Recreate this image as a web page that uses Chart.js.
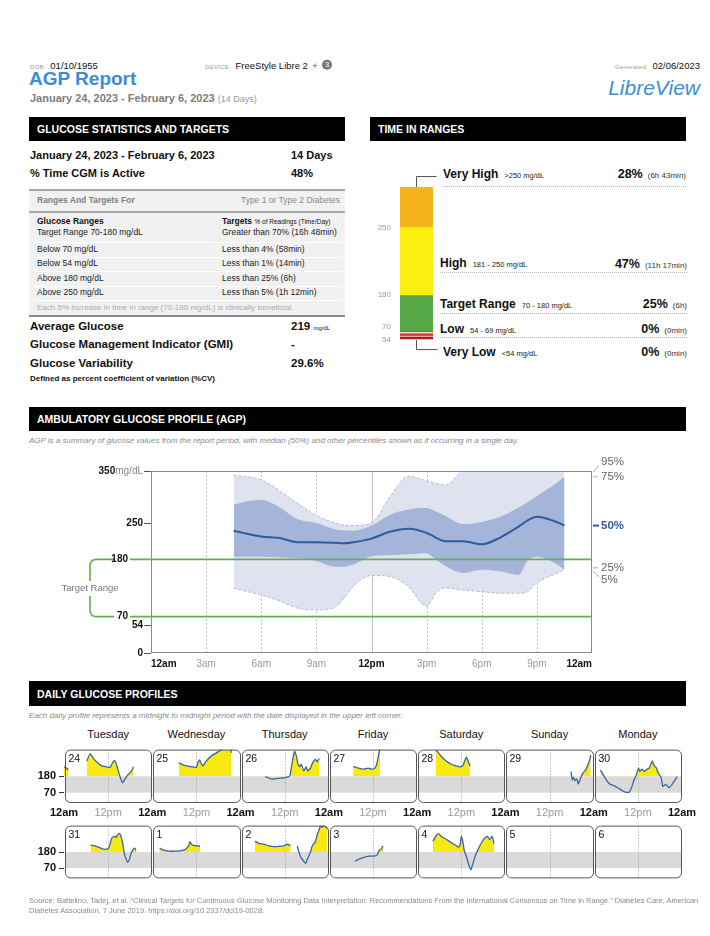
<!DOCTYPE html>
<html><head><meta charset="utf-8"><title>AGP Report</title>
<script src="https://cdn.jsdelivr.net/npm/chart.js@4.4.1/dist/chart.umd.min.js"></script>
<style>
html,body{margin:0;padding:0;background:#fff}
body{position:relative;width:710px;height:936px;overflow:hidden;font-family:"Liberation Sans",Arial,Helvetica,sans-serif;color:#111}
.a{position:absolute;white-space:nowrap;transform:translateY(-50%);line-height:1.15}
.cap{font-size:6px;color:#9a9a9a;letter-spacing:.3px}
.hb{position:absolute;background:#000;color:#fff;font-weight:bold;font-size:10.5px;box-sizing:border-box;padding-left:8px;height:24px;line-height:25px}
.big{font-size:11px;font-weight:bold}
.big2{font-size:11.5px;font-weight:bold}
.s{font-size:8.5px;color:#222}
.hl{position:absolute;height:0}
.dot{position:absolute;height:0;border-top:1px dotted #b5b5b5}
.circ{display:inline-block;width:10px;height:10px;border-radius:50%;background:#777;color:#fff;font-size:7.5px;text-align:center;line-height:10px;vertical-align:middle}
.tn{font-size:12px;font-weight:bold}
.tr{font-size:7.5px;color:#222;margin-left:6px}
.tp{font-size:12.5px;font-weight:bold}
.tt{font-size:8px;color:#333;margin-left:5px}
canvas{position:absolute}
</style></head><body>

<!-- header -->
<div class="a" style="left:30px;top:64px"><span class="cap">DOB:</span> <span style="font-size:9.5px">01/10/1955</span></div>
<div class="a" style="left:205px;top:64px"><span class="cap">DEVICE:</span> <span style="font-size:9.5px">FreeStyle Libre 2</span> <span style="font-size:9px;color:#555">+</span> <span class="circ">3</span></div>
<div class="a" style="right:10px;top:64px"><span class="cap">Generated:</span> <span style="font-size:9.5px">02/06/2023</span></div>
<div class="a" style="left:29px;top:79px;font-size:19px;font-weight:bold;color:#3a8dd4">AGP Report</div>
<div class="a" style="left:30px;top:98px;font-size:11px;font-weight:bold;color:#7d7d7d">January 24, 2023 - February 6, 2023 <span style="font-weight:normal;font-size:9px;color:#9a9a9a">(14 Days)</span></div>
<div class="a" style="right:10px;top:88px;font-size:21px;font-style:italic;color:#3b8fd6">LibreView</div>

<!-- glucose statistics -->
<div class="hb" style="left:29px;top:117px;width:316px">GLUCOSE STATISTICS AND TARGETS</div>
<div class="a big" style="left:30px;top:155px">January 24, 2023 - February 6, 2023</div>
<div class="a big" style="left:291px;top:155px">14 Days</div>
<div class="a big" style="left:30px;top:173px">% Time CGM is Active</div>
<div class="a big" style="left:291px;top:173px">48%</div>

<div style="position:absolute;left:29px;top:189px;width:316px;height:124px;background:#f1f1f1;border-top:2px solid #a8a8a8;border-bottom:2px solid #8a8a8a"></div>
<div class="hl" style="left:29px;top:211px;width:316px;border-top:2px solid #a8a8a8"></div>
<div class="hl" style="left:34px;top:242px;width:308px;border-top:1px solid #fff"></div>
<div class="hl" style="left:34px;top:257px;width:308px;border-top:1px solid #fff"></div>
<div class="hl" style="left:34px;top:271px;width:308px;border-top:1px solid #fff"></div>
<div class="hl" style="left:34px;top:286px;width:308px;border-top:1px solid #fff"></div>
<div class="hl" style="left:34px;top:300px;width:308px;border-top:1px solid #fff"></div>
<div class="a" style="left:37px;top:201px;font-size:8.5px;font-weight:bold;color:#808080">Ranges And Targets For</div>
<div class="a" style="left:223px;width:117px;text-align:right;top:201px;font-size:8.5px;color:#8a8a8a">Type 1 or Type 2 Diabetes</div>
<div class="a s" style="left:37px;top:222px;font-weight:bold;color:#111">Glucose Ranges</div>
<div class="a s" style="left:222px;top:222px;font-weight:bold;color:#111">Targets <span style="font-size:6.5px;font-weight:normal">% of Readings (Time/Day)</span></div>
<div class="a s" style="left:37px;top:233px">Target Range 70-180 mg/dL</div>
<div class="a s" style="left:222px;top:233px">Greater than 70% (16h 48min)</div>
<div class="a s" style="left:37px;top:250px">Below 70 mg/dL</div>
<div class="a s" style="left:222px;top:250px">Less than 4% (58min)</div>
<div class="a s" style="left:37px;top:264px">Below 54 mg/dL</div>
<div class="a s" style="left:222px;top:264px">Less than 1% (14min)</div>
<div class="a s" style="left:37px;top:279px">Above 180 mg/dL</div>
<div class="a s" style="left:222px;top:279px">Less than 25% (6h)</div>
<div class="a s" style="left:37px;top:293px">Above 250 mg/dL</div>
<div class="a s" style="left:222px;top:293px">Less than 5% (1h 12min)</div>
<div class="a" style="left:37px;top:308px;font-size:8px;color:#acacac">Each 5% increase in time in range (70-180 mg/dL) is clinically beneficial.</div>

<div class="a big2" style="left:30px;top:327px">Average Glucose</div>
<div class="a big2" style="left:291px;top:327px">219 <span style="font-size:6px;font-weight:normal">mg/dL</span></div>
<div class="a big2" style="left:30px;top:345px">Glucose Management Indicator (GMI)</div>
<div class="a big2" style="left:291px;top:345px">-</div>
<div class="a big2" style="left:30px;top:364px">Glucose Variability</div>
<div class="a big2" style="left:291px;top:364px">29.6%</div>
<div class="a" style="left:30px;top:379px;font-size:8px;font-weight:bold">Defined as percent coefficient of variation (%CV)</div>

<!-- time in ranges -->
<div class="hb" style="left:370px;top:117px;width:316px">TIME IN RANGES</div>
<div class="a" style="left:443px;top:173px"><span class="tn">Very High</span><span class="tr">&gt;250 mg/dL</span></div>
<div class="a" style="right:24px;top:173px"><span class="tp">28%</span><span class="tt">(6h 43min)</span></div>
<div class="dot" style="left:443px;top:186px;width:243px"></div>
<div class="a" style="left:440px;top:262px"><span class="tn">High</span><span class="tr">181 - 250 mg/dL</span></div>
<div class="a" style="right:23px;top:263px"><span class="tp">47%</span><span class="tt">(11h 17min)</span></div>
<div class="dot" style="left:440px;top:272px;width:247px"></div>
<div class="a" style="left:440px;top:303px"><span class="tn">Target Range</span><span class="tr">70 - 180 mg/dL</span></div>
<div class="a" style="right:23px;top:303px"><span class="tp">25%</span><span class="tt">(6h)</span></div>
<div class="dot" style="left:440px;top:313px;width:247px"></div>
<div class="a" style="left:440px;top:328px"><span class="tn">Low</span><span class="tr">54 - 69 mg/dL</span></div>
<div class="a" style="right:23px;top:328px"><span class="tp">0%</span><span class="tt">(0min)</span></div>
<div class="dot" style="left:440px;top:337px;width:247px"></div>
<div class="a" style="left:443px;top:351px"><span class="tn">Very Low</span><span class="tr">&lt;54 mg/dL</span></div>
<div class="a" style="right:23px;top:351px"><span class="tp">0%</span><span class="tt">(0min)</span></div>
<canvas id="tir" width="70" height="195" style="left:370px;top:165px"></canvas>

<!-- AGP -->
<div class="hb" style="left:29px;top:407px;width:657px">AMBULATORY GLUCOSE PROFILE (AGP)</div>
<div class="a" style="left:29px;top:441px;font-size:8px;font-style:italic;color:#8a8a8a">AGP is a summary of glucose values from the report period, with median (50%) and other percentiles shown as if occurring in a single day.</div>
<canvas id="agp" width="661" height="220" style="left:29px;top:455px"></canvas>

<!-- daily -->
<div class="hb" style="left:29px;top:681px;width:657px;height:25px;line-height:26px">DAILY GLUCOSE PROFILES</div>
<div class="a" style="left:29px;top:716px;font-size:8px;font-style:italic;color:#8a8a8a">Each daily profile represents a midnight to midnight period with the date displayed in the upper left corner.</div>
<div id="daynames"></div>
<canvas id="week1" width="680" height="85" style="left:20px;top:740px"></canvas>
<canvas id="week2" width="680" height="72" style="left:20px;top:816px"></canvas>

<div style="position:absolute;left:29px;top:896px;font-size:7.5px;color:#8a8a8a;line-height:10px;white-space:nowrap">Source: Battelino, Tadej, et al. “Clinical Targets for Continuous Glucose Monitoring Data Interpretation: Recommendations From the International Consensus on Time in Range.” Diabetes Care, American<br>Diabetes Association. 7 June 2019. https://doi.org/10.2337/dci19-0028.</div>

<script>
const FONT = '"Liberation Sans", Arial, Helvetica, sans-serif';

// ---------------- DATA ----------------
// Time in ranges (percent of readings), bottom to top
const tirNames = ['Very Low', 'Low', 'Target Range', 'High', 'Very High'];
const tirPercent = [0, 0, 25, 47, 28];
const tirColors = ['#b5141c', '#d9343a', '#56a846', '#fbee11', '#f4b31b'];
const tirBoundaryLabels = ['54', '70', '180', '250'];

// AGP percentiles (mg/dL) by hour of day
const agpHours = [4.5, 5, 6, 7, 8, 9, 10, 10.5, 11, 12, 13, 14, 15, 15.5, 16, 17, 18, 19, 20, 20.5, 21, 22, 22.5];
const agpP95 = [342, 340, 333, 312, 287, 265, 250, 246, 245, 250, 300, 340, 331, 326, 323, 352, 365, 370, 372, 372, 372, 372, 372];
const agpP75 = [285, 290, 294, 280, 257, 250, 238, 236, 235, 245, 266, 276, 279, 272, 264, 248, 252, 262, 280, 290, 302, 325, 339];
const agpP50 = [235, 231, 224, 221, 213, 213, 212, 211, 213, 220, 233, 239, 231, 222, 215, 215, 209, 222, 243, 255, 262, 253, 245];
const agpP25 = [185, 185, 185, 184, 182, 177, 166, 166, 170, 186, 188, 190, 192, 180, 168, 154, 160, 157, 150, 178, 185, 172, 160];
const agpP5 = [125, 120, 112, 100, 86, 83, 88, 105, 128, 149, 147, 128, 90, 115, 125, 121, 118, 115, 115, 118, 135, 152, 160];
const agpTickHours = [0, 3, 6, 9, 12, 15, 18, 21, 24];
const agpTickLabels = ['12am', '3am', '6am', '9am', '12pm', '3pm', '6pm', '9pm', '12am'];
const agpYTicks = [0, 54, 250, 350];
const targetLow = 70, targetHigh = 180;

// Daily glucose profiles: [hour, mg/dL]
const dayNames = ['Tuesday', 'Wednesday', 'Thursday', 'Friday', 'Saturday', 'Sunday', 'Monday'];
const week1Dates = ['24', '25', '26', '27', '28', '29', '30'];
const week2Dates = ['31', '1', '2', '3', '4', '5', '6'];
const dailyTickLabels = ['12am', '12pm'];
const dailyYTicks = [70, 180];
const dailyYMax = 360;

const jan24 = [[0,244],[0.7,235],[1.2,222],[3.5,null],[6.2,283],[7.1,332],[8.0,301],[8.9,277],[10.3,250],[11.6,244],[12.5,239],[13.2,272],[13.7,288],[14.3,257],[14.8,213],[15.3,173],[15.9,136],[16.6,162],[17.5,195],[18.3,213],[18.9,244]];
const jan25 = [[7.2,272],[8.4,257],[9.7,248],[11.1,244],[12.0,239],[12.4,272],[12.9,290],[13.4,261],[13.8,250],[14.7,283],[16.0,316],[17.4,338],[18.7,358],[19.6,372],[20.6,372],[21.2,370],[21.5,338]];
const jan26 = [[6.7,178],[7.6,169],[8.5,160],[9.7,165],[11.1,167],[12.5,173],[13.4,184],[13.8,239],[14.3,310],[14.7,349],[15.2,316],[15.6,261],[16.1,244],[16.5,261],[17.2,217],[17.8,244],[18.3,217],[19.0,235],[19.6,272],[20.3,294],[20.8,279],[21.4,301]];
const jan27 = [[6.6,244],[7.1,244],[8.0,235],[9.4,228],[10.7,235],[11.6,228],[12.5,235],[13.0,261],[13.4,310],[13.9,372]];
const jan28 = [[5.0,354],[5.6,345],[6.7,310],[7.9,283],[9.3,261],[10.6,250],[11.8,244],[12.4,250],[12.9,283],[13.4,310],[14.0,272],[14.4,250]];
const jan29 = [[17.8,213],[18.2,156],[18.5,173],[18.9,151],[19.4,162],[19.8,129],[20.2,151],[20.7,184],[21.2,206],[21.8,222],[22.3,250],[22.8,283],[23.2,323]];
const jan30 = [[1.8,222],[2.5,195],[3.4,156],[4.3,129],[5.6,116],[7.0,96],[7.9,81],[8.8,72],[9.7,74],[10.4,112],[10.9,151],[11.5,184],[12.2,235],[12.5,213],[13.1,228],[13.8,213],[14.5,228],[15.1,235],[15.9,283],[16.5,250],[17.0,239],[17.6,200],[18.3,173],[18.8,112],[19.6,125],[20.5,103],[21.4,129],[22.0,151],[22.7,178]];
const jan31 = [[7.3,226],[8.5,222],[10.5,201],[11.9,201],[12.3,216],[13.0,275],[13.7,286],[14.2,280],[14.6,300],[15.1,307],[15.5,286],[16.0,233],[16.4,169],[16.9,131],[17.3,110],[17.8,131],[18.2,169],[18.7,195],[19.2,207],[19.6,190]];
const feb1 = [[2.0,207],[2.7,197],[4.6,186],[6.4,186],[8.2,191],[9.1,201],[9.9,222],[10.2,250],[10.8,229],[11.4,224],[12.3,222],[13.0,220]];
const feb2 = [[3.9,254],[5.0,239],[6.3,233],[7.7,222],[9.1,216],[10.4,218],[11.8,222],[12.7,233],[13.6,222],[14.5,null],[15.4,222],[16.3,148],[17.2,117],[17.7,102],[18.1,127],[19.0,180],[19.5,222],[20.4,254],[20.8,296],[21.3,328],[21.7,356],[22.2,349],[22.6,362],[23.3,349],[23.5,340]];
const feb3 = [[7.1,117],[8.2,131],[9.5,144],[10.9,152],[12.2,152],[13.1,159],[13.7,191],[14.3,201],[14.5,212],[14.7,222]];
const feb4 = [[4.3,254],[5.3,296],[5.9,303],[6.6,286],[8.0,265],[9.3,243],[10.7,222],[11.3,212],[11.8,243],[12.0,286],[12.4,254],[12.8,191],[13.4,148],[14.0,95],[14.6,59],[15.2,106],[15.9,159],[16.6,201],[17.5,243],[18.4,275],[19.1,286],[19.7,265],[20.4,286],[20.9,237]];
const feb5 = [];
const feb6 = [];
const week1 = [jan24, jan25, jan26, jan27, jan28, jan29, jan30];
const week2 = [jan31, feb1, feb2, feb3, feb4, feb5, feb6];

// ---------------- COMMON ----------------
const baseOpts = { responsive: false, animation: false, events: [], devicePixelRatio: 1 };
const noLegend = { legend: { display: false }, tooltip: { enabled: false } };

// ---------------- TIME IN RANGES ----------------
const tirPlugin = {
  id: 'tirDecor',
  afterDatasetsDraw(chart) {
    const { ctx, chartArea: ca, scales: { y } } = chart;
    const bar = chart.getDatasetMeta(2).data[0];
    const left = bar.x - bar.width / 2, w = bar.width, cx = Math.round(bar.x) - 0.5;
    const y0 = y.getPixelForValue(0);
    ctx.save();
    let off = 0;
    ctx.fillStyle = '#f2d6cc';
    ctx.fillRect(left, y0, w, 7.6);
    [1, 0].forEach(i => {
      if (tirPercent[i] === 0) {
        ctx.fillStyle = tirColors[i];
        ctx.fillRect(left, y0 + 1.6 + off, w, 2.4);
        off += 3.3;
      }
    });
    const bottom = y0 + 1.6 + off;
    const top = y.getPixelForValue(100);
    ctx.strokeStyle = '#555'; ctx.lineWidth = 1;
    ctx.beginPath();
    ctx.moveTo(cx, top); ctx.lineTo(cx, top - 10.5); ctx.lineTo(cx + 20, top - 10.5);
    ctx.moveTo(cx, bottom); ctx.lineTo(cx, bottom + 9.5); ctx.lineTo(cx + 21, bottom + 9.5);
    ctx.stroke();
    ctx.fillStyle = '#9a9a9a'; ctx.font = '8px ' + FONT; ctx.textAlign = 'right'; ctx.textBaseline = 'middle';
    const cum = k => tirPercent.slice(0, k).reduce((a, b) => a + b, 0);
    ctx.fillText(tirBoundaryLabels[3], ca.left - 9, y.getPixelForValue(cum(4)));
    ctx.fillText(tirBoundaryLabels[2], ca.left - 9, y.getPixelForValue(cum(3)) - 1);
    ctx.fillText(tirBoundaryLabels[1], ca.left - 9, y.getPixelForValue(cum(2)) - 5);
    ctx.fillText(tirBoundaryLabels[0], ca.left - 9, y.getPixelForValue(cum(1)) + 8);
    ctx.restore();
  }
};
new Chart(document.getElementById('tir'), {
  type: 'bar',
  data: {
    labels: ['TIR'],
    datasets: tirNames.map((n, i) => ({
      label: n, data: [tirPercent[i]], backgroundColor: tirColors[i], borderWidth: 0,
      barPercentage: 1, categoryPercentage: 1
    }))
  },
  options: Object.assign({}, baseOpts, {
    plugins: noLegend,
    layout: { padding: { left: 30, right: 7, top: 22, bottom: 18 } },
    scales: {
      x: { stacked: true, display: false },
      y: { stacked: true, display: false, min: -7, max: 100 }
    }
  }),
  plugins: [tirPlugin]
});

// ---------------- AGP ----------------
const pts = arr => agpHours.map((h, i) => ({ x: h, y: arr[i] }));
const last = a => a[a.length - 1];
const agpPlugin = {
  id: 'agpDecor',
  beforeDatasetsDraw(chart) {
    const { ctx, chartArea: ca, scales: { x } } = chart;
    ctx.save();
    ctx.strokeStyle = '#c2c2c2'; ctx.lineWidth = 1;
    agpTickHours.forEach(h => {
      if (h === 0 || h === 24) return;
      const px = Math.round(x.getPixelForValue(h)) + 0.5;
      ctx.setLineDash(h === 12 ? [] : [2, 2]);
      ctx.beginPath(); ctx.moveTo(px, ca.top); ctx.lineTo(px, ca.bottom); ctx.stroke();
    });
    ctx.restore();
  },
  afterDatasetsDraw(chart) {
    const { ctx, chartArea: ca, scales: { y } } = chart;
    ctx.save();
    ctx.strokeStyle = '#8a8a8a'; ctx.lineWidth = 1;
    ctx.strokeRect(ca.left + 0.5, ca.top + 0.5, ca.width - 1, ca.height - 1);
    ctx.strokeStyle = '#555';
    agpYTicks.forEach(v => {
      const py = Math.round(y.getPixelForValue(v)) + 0.5;
      ctx.beginPath(); ctx.moveTo(ca.left - 7, py); ctx.lineTo(ca.left, py); ctx.stroke();
    });
    ctx.textBaseline = 'middle'; ctx.textAlign = 'right';
    agpYTicks.forEach(v => {
      const py = y.getPixelForValue(v);
      if (v === 350) {
        ctx.font = '10px ' + FONT; ctx.fillStyle = '#888';
        const w = ctx.measureText('mg/dL').width;
        ctx.fillText('mg/dL', ca.left - 8, py);
        ctx.font = 'bold 10px ' + FONT; ctx.fillStyle = '#111';
        ctx.fillText(String(v), ca.left - 8 - w, py);
      } else {
        ctx.font = 'bold 10px ' + FONT; ctx.fillStyle = '#111';
        ctx.fillText(String(v), ca.left - 8, py);
      }
    });
    const yh = y.getPixelForValue(targetHigh), yl = y.getPixelForValue(targetLow);
    const midY = (yh + yl) / 2, bx = ca.left - 61, r = 6;
    ctx.strokeStyle = '#63b050'; ctx.lineWidth = 1.6;
    [yh, yl].forEach(py => { ctx.beginPath(); ctx.moveTo(ca.left - 21, py); ctx.lineTo(ca.right, py); ctx.stroke(); });
    ctx.beginPath();
    ctx.moveTo(ca.left - 37, yh); ctx.lineTo(bx + r, yh); ctx.arcTo(bx, yh, bx, yh + r, r); ctx.lineTo(bx, midY - 7);
    ctx.moveTo(bx, midY + 8); ctx.lineTo(bx, yl - r); ctx.arcTo(bx, yl, bx + r, yl, r); ctx.lineTo(ca.left - 37, yl);
    ctx.stroke();
    ctx.font = 'bold 10px ' + FONT; ctx.fillStyle = '#111';
    ctx.fillText(String(targetHigh), ca.left - 23, yh);
    ctx.fillText(String(targetLow), ca.left - 23, yl);
    ctx.textAlign = 'center'; ctx.font = '9.5px ' + FONT; ctx.fillStyle = '#777';
    ctx.fillText('Target Range', bx, midY + 0.5);
    const rx = ca.right;
    const y95 = Math.max(y.getPixelForValue(last(agpP95)), ca.top) - 9;
    const y75 = Math.max(y.getPixelForValue(last(agpP75)), y95 + 13);
    const y50 = y.getPixelForValue(last(agpP50));
    const y25 = y.getPixelForValue(last(agpP25)) - 2;
    const y5 = Math.max(y.getPixelForValue(last(agpP5)), y25 + 12);
    ctx.strokeStyle = '#999'; ctx.lineWidth = 0.8;
    ctx.beginPath();
    ctx.moveTo(rx + 1, ca.top + 1); ctx.lineTo(rx + 7, y95 + 3);
    ctx.moveTo(rx + 1, y75); ctx.lineTo(rx + 6, y75);
    ctx.moveTo(rx + 1, y25); ctx.lineTo(rx + 6, y25);
    ctx.moveTo(rx + 1, y25 + 3); ctx.lineTo(rx + 7, y5 - 3);
    ctx.stroke();
    ctx.strokeStyle = '#2d5c9c'; ctx.lineWidth = 2;
    ctx.beginPath(); ctx.moveTo(rx + 1, y50); ctx.lineTo(rx + 7, y50); ctx.stroke();
    ctx.textAlign = 'left'; ctx.font = '11.5px ' + FONT; ctx.fillStyle = '#666';
    ctx.fillText('95%', rx + 9, y95);
    ctx.fillText('75%', rx + 9, y75);
    ctx.fillText('25%', rx + 9, y25);
    ctx.fillText('5%', rx + 9, y5);
    ctx.font = 'bold 11.5px ' + FONT; ctx.fillStyle = '#2d5c9c';
    ctx.fillText('50%', rx + 9, y50);
    ctx.restore();
  }
};
const dashed = { borderColor: '#b3b9d0', borderDash: [3, 2], borderWidth: 1 };
new Chart(document.getElementById('agp'), {
  type: 'line',
  data: {
    datasets: [
      { label: '50%', data: pts(agpP50), borderColor: '#2d5c9c', borderWidth: 2, fill: false },
      { label: '25%', data: pts(agpP25), borderWidth: 0, fill: false },
      { label: '75%', data: pts(agpP75), borderWidth: 0, backgroundColor: '#a5b4d9', fill: 1 },
      Object.assign({ label: '5%', data: pts(agpP5), fill: false }, dashed),
      Object.assign({ label: '95%', data: pts(agpP95), backgroundColor: '#dfe2ef', fill: 3 }, dashed)
    ]
  },
  options: Object.assign({}, baseOpts, {
    plugins: noLegend,
    elements: { point: { radius: 0 }, line: { tension: 0.4, cubicInterpolationMode: 'monotone' } },
    layout: { padding: { left: 122, right: 98, top: 16, bottom: 0 } },
    scales: {
      x: {
        type: 'linear', min: 0, max: 24,
        afterBuildTicks: s => { s.ticks = agpTickHours.map(v => ({ value: v })); },
        afterFit: s => { s.height = 22; },
        grid: { display: false, drawTicks: false }, border: { display: false },
        ticks: {
          autoSkip: false, maxRotation: 0, padding: 5, align: 'inner',
          callback: (v, i) => agpTickLabels[i],
          font: c => ({ family: FONT, size: 10, weight: c.index % 4 === 0 ? 'bold' : 'normal' }),
          color: c => c.index % 4 === 0 ? '#111' : '#999'
        }
      },
      y: { min: 0, max: 350, display: false }
    }
  }),
  plugins: [agpPlugin]
});

// ---------------- DAILY PROFILES ----------------
function roundRectPath(ctx, x, y, w, h, r) {
  ctx.beginPath();
  ctx.moveTo(x + r, y);
  ctx.arcTo(x + w, y, x + w, y + h, r);
  ctx.arcTo(x + w, y + h, x, y + h, r);
  ctx.arcTo(x, y + h, x, y, r);
  ctx.arcTo(x, y, x + w, y, r);
  ctx.closePath();
}
function dailyPlugin(dates) {
  const box = (x, ca, j) => {
    const x0 = Math.round(x.getPixelForValue(j * 24)) + 1.5;
    const x1 = Math.round(x.getPixelForValue((j + 1) * 24)) - 0.5;
    return [x0, ca.top + 0.5, x1 - x0, ca.height - 1];
  };
  return {
    id: 'dailyDecor',
    beforeDatasetsDraw(chart) {
      const { ctx, chartArea: ca, scales: { x, y } } = chart;
      dates.forEach((d, j) => {
        const [bx, by, bw, bh] = box(x, ca, j);
        ctx.save();
        roundRectPath(ctx, bx, by, bw, bh, 5);
        ctx.clip();
        const yh = y.getPixelForValue(targetHigh), yl = y.getPixelForValue(targetLow);
        ctx.fillStyle = '#dadada';
        ctx.fillRect(bx, yh, bw, yl - yh);
        const xm = Math.round(x.getPixelForValue(j * 24 + 12)) + 0.5;
        ctx.strokeStyle = '#9a9a9a'; ctx.lineWidth = 1; ctx.setLineDash([1, 2]);
        ctx.beginPath(); ctx.moveTo(xm, ca.top); ctx.lineTo(xm, ca.bottom); ctx.stroke();
        ctx.restore();
      });
    },
    afterDatasetsDraw(chart) {
      const { ctx, chartArea: ca, scales: { x } } = chart;
      ctx.save();
      dates.forEach((d, j) => {
        const [bx, by, bw, bh] = box(x, ca, j);
        roundRectPath(ctx, bx, by, bw, bh, 5);
        ctx.strokeStyle = '#555'; ctx.lineWidth = 1; ctx.stroke();
        ctx.fillStyle = '#111'; ctx.font = '10.5px ' + FONT; ctx.textAlign = 'left'; ctx.textBaseline = 'middle';
        ctx.fillText(d, bx + 3, by + 9);
      });
      ctx.restore();
    }
  };
}
function dayDatasets(days) {
  return days.map((p, j) => ({
    data: p.map(([h, v]) => ({ x: j * 24 + h, y: v })),
    borderColor: '#3a64a2', borderWidth: 1.3, pointRadius: 0, tension: 0.15, spanGaps: false,
    fill: { target: { value: targetHigh }, above: '#f6ea10', below: 'rgba(0,0,0,0)' }
  }));
}
function dailyChart(id, days, dates, showX) {
  return new Chart(document.getElementById(id), {
    type: 'line',
    data: { datasets: dayDatasets(days) },
    options: Object.assign({}, baseOpts, {
      plugins: noLegend,
      layout: { padding: { top: 8, right: 18, bottom: showX ? 0 : 8, left: 0 } },
      scales: {
        x: {
          type: 'linear', min: 0, max: dates.length * 24, display: showX,
          afterBuildTicks: s => { const t = []; for (let h = 0; h <= dates.length * 24; h += 12) t.push({ value: h }); s.ticks = t; },
          afterFit: s => { s.height = showX ? 22 : 0; },
          grid: { display: false, drawTicks: false }, border: { display: false },
          ticks: {
            autoSkip: false, maxRotation: 0, padding: 3,
            callback: (v, i) => dailyTickLabels[i % 2],
            font: c => ({ family: FONT, size: 11, weight: c.index % 2 === 0 ? 'bold' : 'normal' }),
            color: c => c.index % 2 === 0 ? '#111' : '#9a9a9a'
          }
        },
        y: {
          min: 0, max: dailyYMax,
          afterBuildTicks: s => { s.ticks = dailyYTicks.map(v => ({ value: v })); },
          afterFit: s => { s.width = 44; },
          grid: { drawOnChartArea: false, drawTicks: true, tickLength: 5, color: '#333' },
          border: { display: false },
          ticks: { padding: 3, font: { family: FONT, size: 11, weight: 'bold' }, color: '#111', callback: v => String(v) }
        }
      }
    }),
    plugins: [dailyPlugin(dates)]
  });
}
const w1 = dailyChart('week1', week1, week1Dates, true);
dailyChart('week2', week2, week2Dates, false);

// day names above first row, centred on each day column
const dn = document.getElementById('daynames');
dayNames.forEach((n, j) => {
  const cx = 20 + w1.scales.x.getPixelForValue(j * 24 + 12);
  const el = document.createElement('div');
  el.className = 'a';
  el.style.cssText = 'left:' + (cx - 50) + 'px;width:100px;text-align:center;top:734px;font-size:11px;color:#111';
  el.textContent = n;
  dn.appendChild(el);
});
</script>
</body></html>
